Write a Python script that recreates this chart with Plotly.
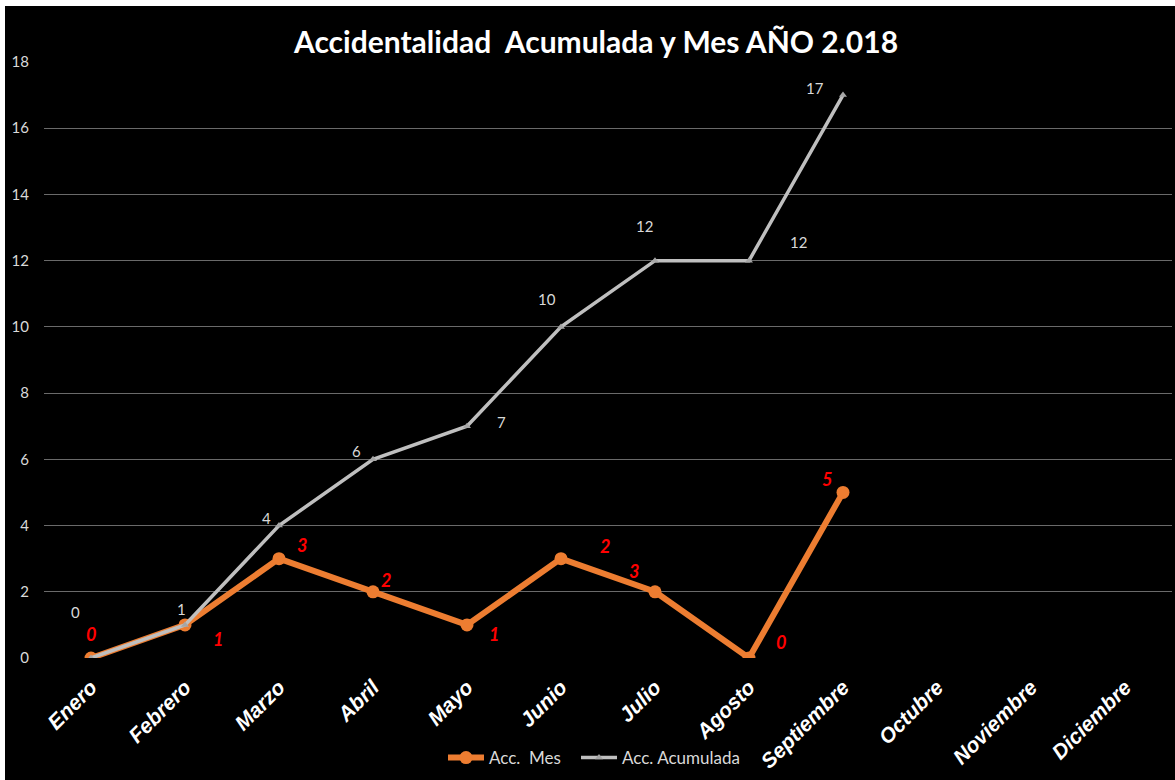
import plotly.graph_objects as go

# ---- data ----
meses = ["Enero", "Febrero", "Marzo", "Abril", "Mayo", "Junio", "Julio",
         "Agosto", "Septiembre", "Octubre", "Noviembre", "Diciembre"]
acc_mes = [0, 1, 3, 2, 1, 3, 2, 0, 5]
acc_acumulada = [0, 1, 4, 6, 7, 10, 12, 12, 17]
# data-label texts as printed on the chart
etiquetas_mes = ["0", "1", "3", "2", "1", "2", "3", "0", "5"]
etiquetas_acum = ["0", "1", "4", "6", "7", "10", "12", "12", "17"]

# ---- label offsets (pixels) ----
off_mes = [(0, 24), (33, -14), (23, 14), (13, 12), (27, -9), (44, 13), (-21, 21), (32, 16), (-16, 13)]
off_acum = [(-16, 46), (-4, 16), (-13, 8), (-17, 8), (34, 4), (-14, 28), (-11, 35), (49, 19), (-28, 7)]

ORANGE = "#ED7D31"
GRAY = "#BFBFBF"
TXT = "#D9D9D9"
NUMFONT = "Lato, Open Sans, sans-serif"

fig = go.Figure()
fig.add_trace(go.Scatter(
    x=meses[:len(acc_mes)], y=acc_mes, name="Acc.  Mes", mode="lines+markers",
    line=dict(color=ORANGE, width=6),
    marker=dict(symbol="circle", size=13, color=ORANGE),
    legend="legend",
))
fig.add_trace(go.Scatter(
    x=meses[:len(acc_acumulada)], y=acc_acumulada, name="Acc. Acumulada", mode="lines+markers",
    line=dict(color=GRAY, width=3.5),
    marker=dict(symbol="triangle-up", size=7, color="#A6A6A6"),
    legend="legend2",
))

ann = []
for m, v, t, (dx, dy) in zip(meses, acc_mes, etiquetas_mes, off_mes):
    ann.append(dict(x=m, y=v, xref="x", yref="y", text=t, showarrow=False,
                    xshift=dx, yshift=dy,
                    font=dict(family=NUMFONT, size=18, color="#FF0000", weight="bold", style="italic")))
for m, v, t, (dx, dy) in zip(meses, acc_acumulada, etiquetas_acum, off_acum):
    ann.append(dict(x=m, y=v, xref="x", yref="y", text=t, showarrow=False,
                    xshift=dx, yshift=dy,
                    font=dict(family=NUMFONT, size=15, color=TXT)))

ann.append(dict(text="Accidentalidad  Acumulada y Mes AÑO 2.018", xref="paper", yref="paper",
                x=(595 - 44) / 1128, y=(658 - 41) / 596, showarrow=False,
                xanchor="center", yanchor="middle",
                font=dict(family=NUMFONT, size=30, color="white", weight="bold")))

# white frame strips (top and left edges)
shapes = [
    dict(type="rect", xref="paper", yref="paper", x0=-0.05, x1=1.01,
         y0=(658 - 6) / 596, y1=1.12, fillcolor="white", line=dict(width=0), layer="above"),
    dict(type="rect", xref="paper", yref="paper", x0=-0.05, x1=(5 - 44) / 1128,
         y0=-0.25, y1=1.12, fillcolor="white", line=dict(width=0), layer="above"),
]

leg_common = dict(orientation="h", xref="container", yref="container",
                  y=(780 - 758) / 780, xanchor="left", yanchor="middle",
                  font=dict(family=NUMFONT, size=17, color=TXT), bgcolor="rgba(0,0,0,0)",
                  itemwidth=36)

fig.update_layout(
    width=1175, height=780,
    paper_bgcolor="black", plot_bgcolor="black",
    margin=dict(l=44, r=3, t=62, b=122),
    showlegend=True,
    legend=dict(x=443 / 1175, **leg_common),
    legend2=dict(x=576 / 1175, **leg_common),
    annotations=ann,
    shapes=shapes,
    xaxis=dict(type="category", categoryorder="array", categoryarray=meses,
               range=[-0.5, 11.5], showgrid=False, zeroline=False, showline=False,
               tickangle=-45, ticks="", automargin=False, ticklabelstandoff=12,
               tickfont=dict(family="Liberation Sans, Arial, sans-serif", size=21,
                             color="white", weight="bold", style="italic")),
    yaxis=dict(range=[0, 18], dtick=2, showgrid=True, gridcolor="#6a6a6a", gridwidth=1,
               zeroline=False, showline=False, ticks="", ticklabelstandoff=14, automargin=False,
               tickfont=dict(family=NUMFONT, size=15, color=TXT)),
)

fig.write_html("out.html", config={"displayModeBar": False},
               post_script="document.body.style.margin='0';document.body.style.overflow='hidden';")
